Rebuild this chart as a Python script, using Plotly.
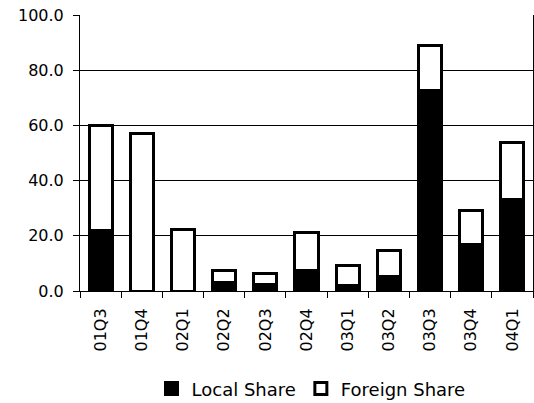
import plotly.graph_objects as go

quarters = ["01Q3", "01Q4", "02Q1", "02Q2", "02Q3", "02Q4", "03Q1", "03Q2", "03Q3", "03Q4", "04Q1"]
local_share = [22.1, 0.0, 0.0, 3.0, 2.5, 7.4, 1.9, 5.3, 72.6, 16.9, 33.2]
foreign_share = [38.0, 57.1, 22.3, 4.4, 3.7, 13.8, 7.5, 9.3, 16.5, 12.4, 20.5]
y_ticks = [0, 20, 40, 60, 80, 100]

FONT = "DejaVu Sans"

fig = go.Figure()
fig.add_trace(go.Bar(
    x=quarters, y=local_share, name="Local Share",
    marker=dict(color="black", line=dict(color="black", width=3)),
))
fig.add_trace(go.Bar(
    x=quarters, y=foreign_share, name="Foreign Share",
    marker=dict(color="white", line=dict(color="black", width=3)),
))

fig.update_layout(
    width=534, height=403,
    margin=dict(l=80, r=1, t=15, b=112, autoexpand=False),
    barmode="stack",
    bargap=0.44,
    plot_bgcolor="white",
    paper_bgcolor="white",
    font=dict(family=FONT, size=16, color="black"),
    showlegend=True,
    legend=dict(
        orientation="h", x=0.510, xanchor="center",
        yref="container", y=0.035, yanchor="middle",
        font=dict(family=FONT, size=18, color="black"),
        traceorder="normal",
        tracegroupgap=0,
    ),
)
fig.update_xaxes(
    type="category",
    tickangle=-90,
    tickson="boundaries",
    ticks="outside", ticklen=6, tickcolor="black",
    showline=True, linecolor="black", linewidth=1,
    showgrid=False,
    automargin=False,
    ticklabelstandoff=10,
    tickfont=dict(family=FONT, size=16, color="black"),
)
fig.update_yaxes(
    range=[0, 100],
    tickvals=y_ticks,
    tickformat=".1f",
    ticks="outside", ticklen=6, tickcolor="black",
    showline=True, linecolor="black", linewidth=1, mirror=True,
    showgrid=True, gridcolor="black", gridwidth=1,
    zeroline=False,
    automargin=False,
    ticklabelstandoff=6,
    tickfont=dict(family=FONT, size=16, color="black"),
)

fig.write_html(
    "out.html",
    config={"displayModeBar": False},
    post_script="document.body.style.margin='0';document.body.style.overflow='hidden';",
)
